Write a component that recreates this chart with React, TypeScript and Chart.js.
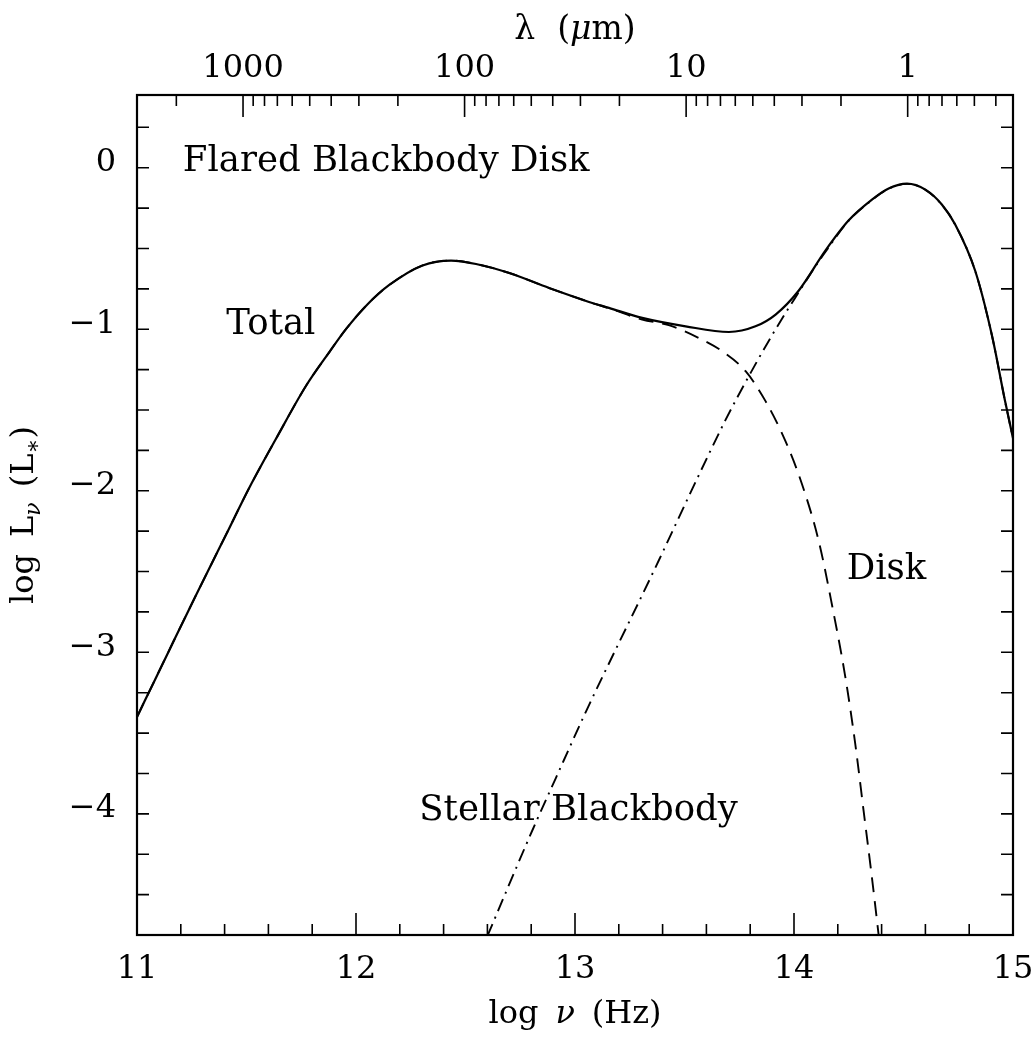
import React, { useEffect, useRef } from "react";
import { Chart, registerables } from "chart.js";

Chart.register(...registerables);

// ---- Data (log nu in Hz, log L_nu in L*) ----
const totalX = [11.0, 11.035, 11.149, 11.271, 11.408, 11.514, 11.636, 11.772, 11.879, 11.955, 12.053, 12.152, 12.304, 12.434, 12.548, 12.7, 12.882, 13.064, 13.155, 13.307, 13.505, 13.703, 13.824, 13.916, 14.022, 14.144, 14.25, 14.356, 14.432, 14.516, 14.6, 14.675, 14.736, 14.828, 14.903, 14.964, 15.0];
const totalY = [-3.45, -3.352, -3.032, -2.692, -2.318, -2.028, -1.725, -1.4, -1.19, -1.048, -0.895, -0.776, -0.655, -0.625, -0.646, -0.702, -0.795, -0.881, -0.918, -0.98, -1.032, -1.067, -1.032, -0.959, -0.81, -0.562, -0.376, -0.248, -0.179, -0.149, -0.186, -0.278, -0.402, -0.691, -1.083, -1.496, -1.725];

const diskX = [11.0, 11.035, 11.149, 11.271, 11.408, 11.514, 11.636, 11.772, 11.879, 11.955, 12.053, 12.152, 12.304, 12.434, 12.548, 12.7, 12.882, 13.064, 13.155, 13.307, 13.428, 13.565, 13.672, 13.779, 13.87, 13.961, 14.037, 14.113, 14.174, 14.235, 14.28, 14.318, 14.356, 14.387];
const diskY = [-3.45, -3.352, -3.032, -2.692, -2.318, -2.028, -1.725, -1.4, -1.19, -1.048, -0.895, -0.776, -0.655, -0.625, -0.646, -0.702, -0.795, -0.881, -0.92, -0.99, -1.025, -1.104, -1.186, -1.31, -1.495, -1.743, -2.011, -2.362, -2.76, -3.208, -3.62, -4.033, -4.446, -4.806];

const starX = [12.6, 12.806, 12.912, 13.049, 13.201, 13.3, 13.383, 13.535, 13.688, 13.802, 13.916, 14.022, 14.098, 14.144, 14.25, 14.356, 14.432, 14.516, 14.6, 14.675, 14.736, 14.828, 14.903, 14.964, 15.0];
const starY = [-4.806, -4.15, -3.83, -3.42, -2.99, -2.715, -2.48, -2.04, -1.61, -1.32, -1.05, -0.82, -0.66, -0.57, -0.378, -0.25, -0.18, -0.15, -0.187, -0.279, -0.403, -0.692, -1.084, -1.497, -1.726];

// ---- Axes ----
const X_MIN = 11;
const X_MAX = 15;
const Y_MIN = -4.8;
const Y_MAX = 0.4;
// top axis: log10(lambda / micron), reversed
const L_MIN = -0.4754;
const L_MAX = 3.4786;

const xMajorTicks = [11, 12, 13, 14, 15];
const xTickLabels = ["11", "12", "13", "14", "15"];
const xMinorStep = 0.2;
const yMajorTicks = [0, -1, -2, -3, -4];
const yTickLabels = ["0", "\u22121", "\u22122", "\u22123", "\u22124"];
const yMinorStep = 0.25;
const lambdaMajor = [1000, 100, 10, 1];
const lambdaLabels = ["1000", "100", "10", "1"];
const lambdaDecades = [1000, 100, 10, 1, 0.1];
const lambdaMultipliers = [2, 3, 4, 5, 6, 7, 8, 9];

// ---- Annotations (data coordinates) ----
const noteTexts = ["Flared Blackbody Disk", "Total", "Disk", "Stellar Blackbody"];
const noteX = [11.209, 11.408, 14.241, 12.289];
const noteY = [-0.072, -1.081, -2.598, -4.09];

const SERIF = '"DejaVu Serif", "Liberation Serif", serif';

type Part = { t: string; f: string; dy?: number; gap?: number };

function drawParts(ctx: CanvasRenderingContext2D, parts: Part[], x: number, y: number, align: "left" | "center") {
  const widths = parts.map((p) => {
    if (p.gap) return p.gap;
    ctx.font = p.f;
    return ctx.measureText(p.t).width;
  });
  const total = widths.reduce((a, b) => a + b, 0);
  let cx = align === "center" ? x - total / 2 : x;
  ctx.textAlign = "left";
  parts.forEach((p, i) => {
    if (!p.gap) {
      ctx.font = p.f;
      ctx.fillText(p.t, cx, y + (p.dy || 0));
    }
    cx += widths[i];
  });
}

const framePlugin = {
  id: "framePlugin",
  afterDatasetsDraw(chart: any) {
    const ctx: CanvasRenderingContext2D = chart.ctx;
    const { left, right, top, bottom } = chart.chartArea;
    const xs = chart.scales.x;
    const ys = chart.scales.y;
    const ts = chart.scales.xTop;
    const MAJ = 22;
    const MIN = 11;
    ctx.save();
    ctx.strokeStyle = "#000";
    ctx.fillStyle = "#000";
    ctx.lineCap = "butt";

    // ticks
    ctx.lineWidth = 1.6;
    ctx.beginPath();
    for (let v = X_MIN; v <= X_MAX + 1e-9; v += xMinorStep) {
      const vv = Math.round(v * 10) / 10;
      const isMaj = xMajorTicks.some((m) => Math.abs(m - vv) < 1e-6);
      const px = xs.getPixelForValue(vv);
      ctx.moveTo(px, bottom);
      ctx.lineTo(px, bottom - (isMaj ? MAJ : MIN));
    }
    for (let v = Y_MIN; v <= Y_MAX + 1e-9; v += yMinorStep) {
      const vv = Math.round(v * 100) / 100;
      if (vv < Y_MIN + 0.01 || vv > Y_MAX - 0.01) continue;
      const isMaj = yMajorTicks.some((m) => Math.abs(m - vv) < 1e-6);
      const py = ys.getPixelForValue(vv);
      const len = isMaj ? MAJ + 1 : MIN + 1;
      ctx.moveTo(left, py);
      ctx.lineTo(left + len, py);
      ctx.moveTo(right, py);
      ctx.lineTo(right - len, py);
    }
    lambdaMajor.forEach((lam) => {
      const px = ts.getPixelForValue(Math.log10(lam));
      ctx.moveTo(px, top);
      ctx.lineTo(px, top + MAJ);
    });
    lambdaDecades.forEach((d) => {
      lambdaMultipliers.forEach((m) => {
        const L = Math.log10(d * m);
        if (L <= L_MIN + 0.01 || L >= L_MAX - 0.01) return;
        const px = ts.getPixelForValue(L);
        ctx.moveTo(px, top);
        ctx.lineTo(px, top + MIN);
      });
    });
    ctx.stroke();

    // frame
    ctx.lineWidth = 2.2;
    ctx.strokeRect(left, top, right - left, bottom - top);

    // tick labels
    ctx.font = `32px ${SERIF}`;
    ctx.textBaseline = "alphabetic";
    ctx.textAlign = "center";
    xMajorTicks.forEach((v, i) => {
      ctx.fillText(xTickLabels[i], xs.getPixelForValue(v), bottom + 43);
    });
    ctx.textAlign = "right";
    yMajorTicks.forEach((v, i) => {
      ctx.fillText(yTickLabels[i], left - 21, ys.getPixelForValue(v) + 11.6);
    });
    ctx.textAlign = "center";
    lambdaMajor.forEach((lam, i) => {
      ctx.fillText(lambdaLabels[i], ts.getPixelForValue(Math.log10(lam)), top - 18);
    });

    // annotations
    ctx.font = `35.5px ${SERIF}`;
    ctx.textAlign = "left";
    noteTexts.forEach((t, i) => {
      ctx.fillText(t, xs.getPixelForValue(noteX[i]), ys.getPixelForValue(noteY[i]));
    });

    // axis titles
    const up = `32px ${SERIF}`;
    const it = `italic 32px ${SERIF}`;
    const up33 = `33px ${SERIF}`;
    const it33 = `italic 33px ${SERIF}`;
    const cxMid = (left + right) / 2;
    drawParts(
      ctx,
      [{ t: "log", f: up }, { t: "", f: up, gap: 17 }, { t: "\u03bd", f: it }, { t: "", f: up, gap: 17 }, { t: "(Hz)", f: up }],
      cxMid,
      bottom + 88,
      "center"
    );
    drawParts(
      ctx,
      [{ t: "\u03bb", f: up33 }, { t: "", f: up33, gap: 22 }, { t: "(", f: up33 }, { t: "\u03bc", f: it33 }, { t: "m)", f: up33 }],
      cxMid,
      39,
      "center"
    );

    ctx.translate(33, (top + bottom) / 2);
    ctx.rotate(-Math.PI / 2);
    drawParts(
      ctx,
      [
        { t: "log", f: up },
        { t: "", f: up, gap: 17 },
        { t: "L", f: up },
        { t: "\u03bd", f: `italic 22px ${SERIF}`, dy: 7 },
        { t: "", f: up, gap: 15 },
        { t: "(L", f: up },
        { t: "\u2217", f: `22px ${SERIF}`, dy: 7 },
        { t: ")", f: up },
      ],
      0,
      0,
      "center"
    );
    ctx.restore();
  },
};

export default function App() {
  const ref = useRef<HTMLCanvasElement | null>(null);

  useEffect(() => {
    if (!ref.current) return;
    const toPts = (xa: number[], ya: number[]) => xa.map((x, i) => ({ x, y: ya[i] }));
    const chart = new Chart(ref.current, {
      type: "scatter",
      data: {
        datasets: [
          {
            label: "Total",
            data: toPts(totalX, totalY),
            showLine: true,
            borderColor: "#000",
            borderWidth: 2.2,
            pointRadius: 0,
            cubicInterpolationMode: "monotone",
          },
          {
            label: "Disk",
            data: toPts(diskX, diskY),
            showLine: true,
            borderColor: "#000",
            borderWidth: 1.9,
            borderDash: [15, 9],
            pointRadius: 0,
            cubicInterpolationMode: "monotone",
          },
          {
            label: "Stellar Blackbody",
            data: toPts(starX, starY),
            showLine: true,
            borderColor: "#000",
            borderWidth: 1.9,
            borderDash: [13, 6, 2, 6],
            pointRadius: 0,
            cubicInterpolationMode: "monotone",
          },
        ],
      } as any,
      options: {
        responsive: false,
        maintainAspectRatio: false,
        animation: false,
        devicePixelRatio: 1,
        layout: { padding: { left: 137, right: 23, top: 95, bottom: 106 } },
        plugins: { legend: { display: false }, tooltip: { enabled: false } },
        events: [],
        scales: {
          x: { type: "linear", position: "bottom", min: X_MIN, max: X_MAX, display: false },
          y: { type: "linear", position: "left", min: Y_MIN, max: Y_MAX, display: false },
          xTop: { type: "linear", position: "top", min: L_MIN, max: L_MAX, reverse: true, display: false },
        },
      } as any,
      plugins: [framePlugin],
    });
    return () => chart.destroy();
  }, []);

  return (
    <div style={{ position: "absolute", left: 0, top: 0, width: 1036, height: 1041, background: "#fff" }}>
      <canvas ref={ref} width={1036} height={1041} style={{ display: "block", width: 1036, height: 1041 }} />
    </div>
  );
}
